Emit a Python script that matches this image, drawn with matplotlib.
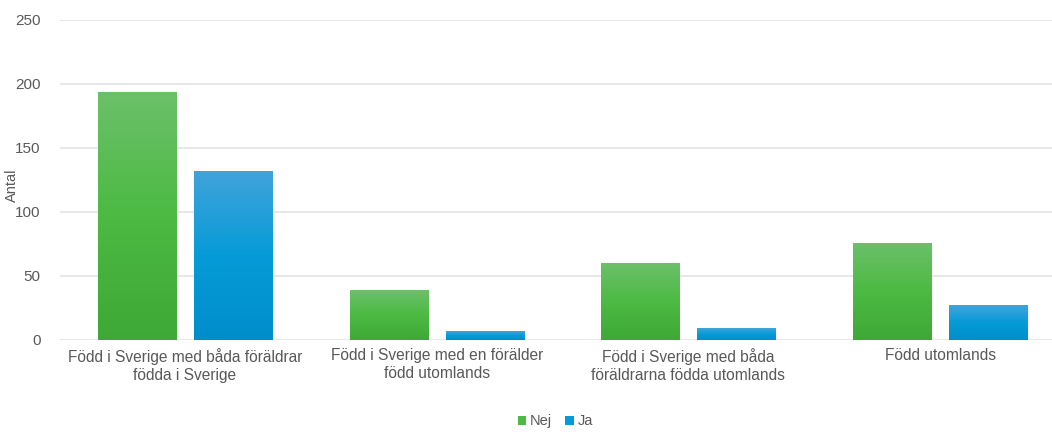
import matplotlib.pyplot as plt
import numpy as np
from matplotlib.colors import LinearSegmentedColormap
from matplotlib.patches import Patch

plt.rcParams['font.family'] = ['Liberation Sans', 'DejaVu Sans']

categories = ["Född i Sverige med båda föräldrar\nfödda i Sverige",
              "Född i Sverige med en förälder\nfödd utomlands",
              "Född i Sverige med båda\nföräldrarna födda utomlands",
              "Född utomlands"]
nej = [194, 39, 60, 76]
ja = [132, 7, 9, 27]
series_names = ["Nej", "Ja"]

green = LinearSegmentedColormap.from_list("g", ["#3fa836", "#4cba43", "#6cc06a"])
blue = LinearSegmentedColormap.from_list("b", ["#008ecb", "#069bd8", "#42a3da"])
text_col = "#595959"

fig, ax = plt.subplots(figsize=(10.52, 4.32), dpi=100)
fig.subplots_adjust(left=0.057, right=1.0, bottom=0.213, top=0.954)

x = np.arange(len(categories))
w = 0.31
off = 0.1907

def gradient_bars(xs, vals, cmap):
    bars = ax.bar(xs, vals, width=w, color="none", edgecolor="none", zorder=3)
    grad = np.linspace(0, 1, 256).reshape(-1, 1)
    for b in bars:
        x0, y0 = b.get_x(), b.get_y()
        x1, y1 = x0 + b.get_width(), y0 + b.get_height()
        im = ax.imshow(grad, cmap=cmap, aspect="auto", origin="lower",
                       extent=[x0, x1, y0, y1], zorder=3)
        im.set_clip_path(b)
    return bars

gradient_bars(x - off, nej, green)
gradient_bars(x + off, ja, blue)

ax.set_xlim(-0.4967, 3.445)
ax.set_ylim(0, 250)
ax.set_yticks(range(0, 251, 50))
ax.set_xticks(x)
ax.set_xticklabels(categories, fontsize=11.2, color=text_col)
ax.tick_params(axis="y", labelsize=11, labelcolor=text_col, length=0, pad=14)
ax.tick_params(axis="x", length=0, pad=6)
ax.yaxis.grid(True, color="#e3e3e3", linewidth=1.2)
ax.set_axisbelow(True)
for s in ax.spines.values():
    s.set_visible(False)
ax.set_ylabel("Antal", fontsize=10.5, color=text_col)
ax.yaxis.set_label_coords(-0.0413, 0.484)

handles = [Patch(facecolor="#4cba43", label=series_names[0]),
           Patch(facecolor="#069bd8", label=series_names[1])]
fig.legend(handles=handles, loc="lower center", bbox_to_anchor=(0.528, -0.022),
           ncol=2, frameon=False, fontsize=10.5, handlelength=0.6, handleheight=0.6,
           handletextpad=0.25, columnspacing=0.9, labelcolor=text_col)

fig.savefig("out.png", dpi=100)
